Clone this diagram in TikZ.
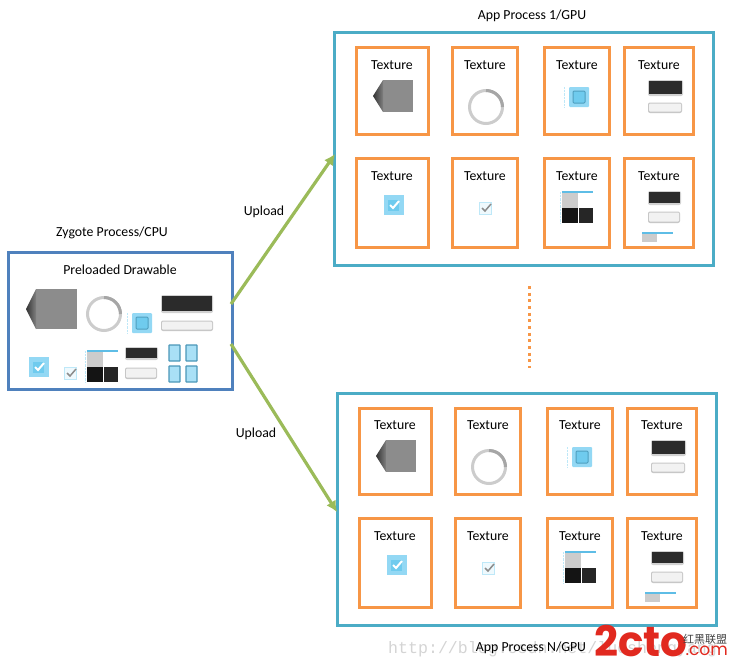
\documentclass[tikz,border=0pt]{standalone}
\usepackage{fontspec}
\setmainfont{Carlito}
\newfontfamily\markfont{Liberation Mono}
\newfontfamily\logofont{Poppins}
\newfontfamily\cjkfont{Noto Sans CJK SC}
\usepackage{tikz}
\usetikzlibrary{positioning,arrows.meta,calc}
\definecolor{zygoteblue}{HTML}{4F81BD}
\definecolor{panelblue}{HTML}{4BACC6}
\definecolor{texorange}{HTML}{F79646}
\definecolor{uploadgreen}{HTML}{9BBB59}
\definecolor{iconblue}{HTML}{93D8F4}
\definecolor{iconinner}{HTML}{6FCBEE}
\definecolor{iconedge}{HTML}{4F9FBF}
\definecolor{iconline}{HTML}{5EBDE6}
\definecolor{logored}{HTML}{E1291F}
\tikzset{
  textlabel/.style={font=\fontsize{13.8}{16}\selectfont,inner sep=0pt},
  panelbox/.style={draw=panelblue,line width=3pt,fill=white,inner sep=0pt,outer sep=0pt,minimum width=379pt,minimum height=232pt},
  texbox/.style={draw=texorange,line width=3pt,inner sep=0pt,outer sep=0pt},
  upload/.style={draw=uploadgreen,line width=3.2pt,-{Latex[length=11pt,width=11pt]}},
}
% icons, given by their top left corner in pixels
\newcommand{\hexicon}[2]{
  \begin{scope}[shift={(#1,#2)}]
    \fill[black!45] (10,0) -- (40,0) -- (40,32) -- (10,32) -- cycle;
    \shade[left color=black!80,right color=black!50] (0,16) -- (10,0) -- (10,32) -- cycle;
  \end{scope}}
\newcommand{\bighexicon}[2]{
  \begin{scope}[shift={(#1,#2)}]
    \fill[black!45] (10,0) -- (51,0) -- (51,40) -- (10,40) -- cycle;
    \shade[left color=black!80,right color=black!50] (0,20) -- (10,0) -- (10,40) -- cycle;
  \end{scope}}
\newcommand{\ringicon}[2]{
  \draw[gray!40,line width=3pt] (#1,#2) circle (16.5);
  \draw[gray!70,line width=3pt] (#1,#2) ++(0,-16.5) arc (-90:0:16.5);}
\newcommand{\padicon}[2]{
  \begin{scope}[shift={(#1,#2)}]
    \draw[iconblue!60,densely dotted] (-5,0) -- (-5,20);
    \fill[iconblue,rounded corners=1pt] (0,0) rectangle (20,20);
    \draw[iconedge,fill=iconinner,line width=1pt,rounded corners=1pt] (4,4) rectangle (16,16);
  \end{scope}}
\newcommand{\blackbar}[4]{
  \begin{scope}[shift={(#1,#2)}]
    \fill[black!18,rounded corners=2pt] (-1,-1) rectangle (#3+1,#4+2);
    \fill[black!83] (0,0) rectangle (#3,#4);
  \end{scope}}
\newcommand{\whitebar}[4]{
  \begin{scope}[shift={(#1,#2)}]
    \fill[black!22,rounded corners=2pt] (0,-0.5) rectangle (#3,#4+1);
    \fill[black!5,rounded corners=1pt] (1,0.5) rectangle (#3-1,#4-0.5);
  \end{scope}}
\newcommand{\bigcheck}[2]{
  \begin{scope}[shift={(#1,#2)}]
    \fill[iconblue] (0,0) rectangle (20,20);
    \fill[iconinner] (4,5) rectangle (15,16);
    \draw[white,line width=2pt] (6,10) -- (9,13) -- (15,6);
  \end{scope}}
\newcommand{\smallcheck}[2]{
  \begin{scope}[shift={(#1,#2)}]
    \draw[iconblue!60,fill=iconblue!15,line width=1.5pt] (0.5,0.5) rectangle (12.5,12.5);
    \draw[gray!90,line width=1.5pt] (3,6) -- (6,9) -- (12,2);
  \end{scope}}
\newcommand{\gridicon}[2]{
  \begin{scope}[shift={(#1,#2)}]
    \draw[iconline,line width=1.2pt] (0,0) -- (31,0);
    \fill[gray!40] (0,1) rectangle (16,16);
    \fill[black!92] (0,16) rectangle (15.5,31);
    \fill[black!85] (16.5,16) rectangle (31,31);
    \draw[iconblue!60,densely dotted] (-2,0) -- (-2,31);
  \end{scope}}
\newcommand{\tablet}[2]{
  \draw[iconline!80!black,line width=1.2pt,fill=iconblue!80,rounded corners=0.5pt] (#1,#2) rectangle ++(11,16);}
% one process panel, with its eight textures
\newcommand{\processpanel}[3]{
  \begin{scope}[shift={(#2,#3)}]
    \node[panelbox] (#1) at (189.5,116) {};
    \foreach \boxid/\cx/\cy/\bw/\bh/\ly in {
      a/58/58/72/86/32.5, b/151/58/65/86/32.5, c/243/58/65/86/32.5, d/325/58/69/86/32.5,
      e/58/170/72/89/143.5, f/151/170/65/89/143.5, g/243/170/65/89/143.5, h/325/170/69/89/143.5} {
      \node[texbox,minimum width=\bw pt,minimum height=\bh pt] (#1\boxid) at (\cx,\cy) {};
      \node[textlabel] (#1\boxid text) at (\cx,\ly) {Texture};
    }
    \hexicon{39}{47}
    \ringicon{152}{74}
    \padicon{235}{54}
    \blackbar{315}{48}{33}{13}
    \whitebar{314}{70}{34}{9}
    \bigcheck{50}{162}
    \smallcheck{145}{169}
    \gridicon{228}{159}
    \blackbar{315}{159}{31}{11}
    \whitebar{314}{179}{32}{10}
    \draw[iconline,line width=1.2pt] (308,200) -- (339,200);
    \fill[gray!40] (308,201) rectangle (323,209);
  \end{scope}}
\begin{document}
\begin{tikzpicture}[x=1pt,y=-1pt]
\useasboundingbox (0,0) rectangle (730,669);
\node[anchor=west,inner sep=0pt,text=black!17,font=\markfont\fontsize{16.6}{18}\selectfont] (watermark) at (388,649) {http://blog.csdn.net/luoshengyang};
% process panels
\processpanel{panelone}{334}{33}
\processpanel{panelN}{337}{393}
% zygote box
\node[draw=zygoteblue,line width=3pt,inner sep=0pt,outer sep=0pt,minimum width=224pt,minimum height=137pt] (zygote) at (120,320.5) {};
\bighexicon{26}{289}
\ringicon{104}{314}
\padicon{132}{313}
\blackbar{162}{296}{50}{15}
\whitebar{161}{321}{52}{9}
\bigcheck{29}{357}
\smallcheck{64}{367}
\gridicon{87}{351}
\blackbar{126}{348}{31}{10}
\whitebar{125}{368}{32}{10}
\tablet{169}{345}
\tablet{186}{345}
\tablet{169}{366}
\tablet{186}{366}
% upload arrows
\draw[upload] ($(zygote.east)+(-1,-16.5)$) -- ($(panelone.west)+(1,5)$);
\draw[upload] ($(zygote.east)+(-1,23.5)$) -- ($(panelN.west)+(0,3)$);
% dots between the panels
\coordinate (dotstart) at (529.5,286);
\coordinate (dotend) at (529.5,368);
\draw[texorange,line width=3pt,dash pattern=on 3pt off 3.65pt] (dotstart) -- (dotend);
% labels
\node[textlabel] (titleone) at (532,16) {App Process 1/GPU};
\node[textlabel] (titlezygote) at (112,233) {Zygote Process/CPU};
\node[textlabel] (titledrawable) at (120,270) {Preloaded Drawable};
\node[textlabel] (uploadone) at (264,212) {Upload};
\node[textlabel] (uploadN) at (256,434) {Upload};
\node[textlabel] (titleN) at (531,648) {App Process N/GPU};
% logo
\node[anchor=west,inner sep=0pt,text=logored,font=\logofont\bfseries\fontsize{42}{42}\selectfont] (logomain) at (594,641) {2cto};
\node[anchor=east,inner sep=0pt,text=logored,font=\logofont\fontsize{17}{17}\selectfont] (logocom) at (728,651) {.com};
\node[anchor=west,inner sep=0pt,text=black!75,font=\cjkfont\fontsize{11}{11}\selectfont] (logocn) at (683,639) {红黑联盟};
\end{tikzpicture}
\end{document}
